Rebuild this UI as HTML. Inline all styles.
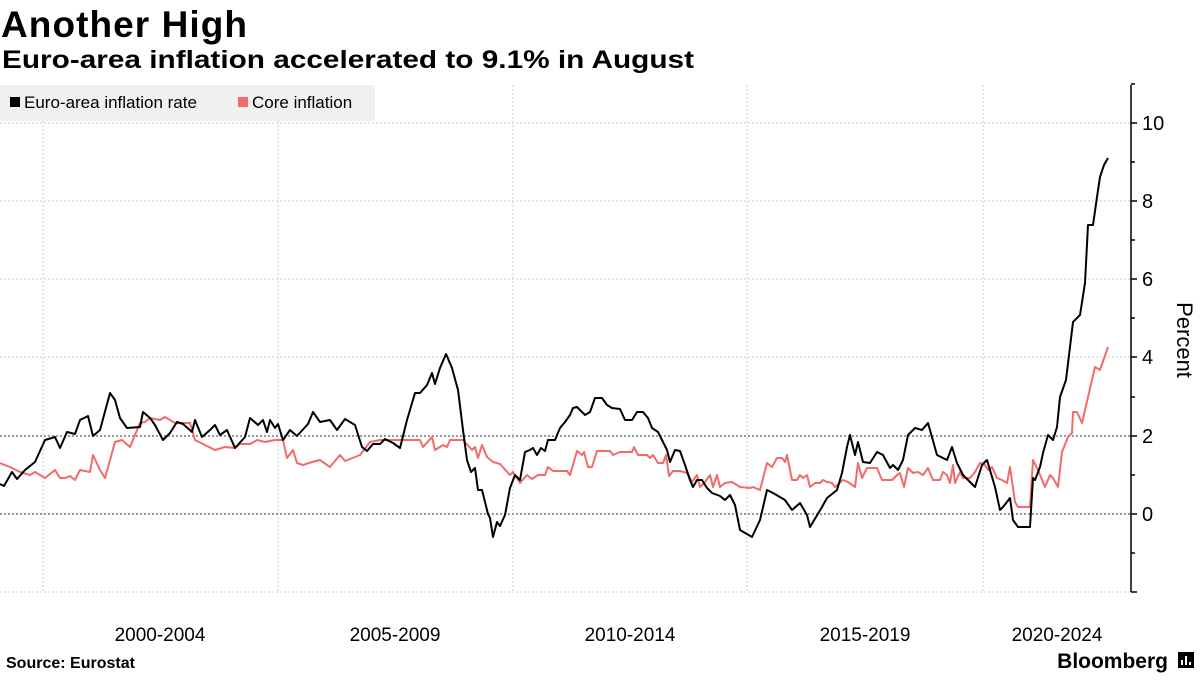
<!DOCTYPE html>
<html><head><meta charset="utf-8"><style>
body{margin:0;width:1200px;height:675px;background:#fff;font-family:"Liberation Sans",sans-serif;overflow:hidden}
</style></head><body>
<svg width="1200" height="675" xmlns="http://www.w3.org/2000/svg" font-family="Liberation Sans, sans-serif">
<text x="1" y="37" font-size="37" font-weight="bold" fill="#000" textLength="246">Another High</text>
<text x="2" y="68" font-size="25" font-weight="bold" fill="#000" textLength="692" lengthAdjust="spacingAndGlyphs">Euro-area inflation accelerated to 9.1% in August</text>
<g stroke="#ccc" stroke-dasharray="2,2" stroke-width="1">
<line x1="0" x2="1131" y1="123" y2="123"/><line x1="0" x2="1131" y1="201" y2="201"/><line x1="0" x2="1131" y1="279" y2="279"/><line x1="0" x2="1131" y1="357" y2="357"/><line x1="0" x2="1131" y1="592" y2="592"/>
<line x1="43" x2="43" y1="85" y2="592"/><line x1="278" x2="278" y1="85" y2="592"/><line x1="513" x2="513" y1="85" y2="592"/><line x1="747" x2="747" y1="85" y2="592"/><line x1="983" x2="983" y1="85" y2="592"/>
</g>
<g stroke="#999" stroke-dasharray="2,2" stroke-width="2">
<line x1="0" x2="1131" y1="436" y2="436"/><line x1="0" x2="1131" y1="514" y2="514"/>
</g>
<rect x="0" y="85" width="375" height="36" fill="#f0f0f0"/>
<rect x="10" y="97" width="10" height="10" fill="#000"/>
<text x="24" y="108" font-size="17">Euro-area inflation rate</text>
<rect x="238" y="97" width="10" height="10" fill="#f26b6b"/>
<text x="252" y="108" font-size="17">Core inflation</text>
<line x1="1131" x2="1131" y1="85" y2="592" stroke="#000" stroke-width="1.5"/>
<g stroke="#000" stroke-width="1.5">
<line x1="1131" x2="1137" y1="123" y2="123"/><line x1="1131" x2="1137" y1="201" y2="201"/><line x1="1131" x2="1137" y1="279" y2="279"/><line x1="1131" x2="1137" y1="357" y2="357"/><line x1="1131" x2="1137" y1="436" y2="436"/><line x1="1131" x2="1137" y1="514" y2="514"/><line x1="1131" x2="1137" y1="592" y2="592"/>
<line x1="1131" x2="1135" y1="84" y2="84"/><line x1="1131" x2="1135" y1="162" y2="162"/><line x1="1131" x2="1135" y1="240" y2="240"/><line x1="1131" x2="1135" y1="318" y2="318"/><line x1="1131" x2="1135" y1="397" y2="397"/><line x1="1131" x2="1135" y1="475" y2="475"/><line x1="1131" x2="1135" y1="553" y2="553"/>
</g>
<g font-size="20" fill="#000">
<text x="1142" y="130">10</text><text x="1142" y="208">8</text><text x="1142" y="286">6</text><text x="1142" y="364">4</text><text x="1142" y="443">2</text><text x="1142" y="521">0</text>
</g>
<text transform="translate(1177,340) rotate(90)" font-size="22" text-anchor="middle">Percent</text>
<g font-size="19" text-anchor="middle">
<text x="160" y="641">2000-2004</text><text x="395" y="641">2005-2009</text><text x="630" y="641">2010-2014</text><text x="865" y="641">2015-2019</text><text x="1057" y="641">2020-2024</text>
</g>
<polyline fill="none" stroke="#f26b6b" stroke-width="2" stroke-linejoin="round" points="0,463 10,467 20,472 30,475 35,472 45,478 55,470 60,478 65,478 70,476 75,480 80,470 90,472 93,455 100,470 105,478 115,442 122,440 130,447 140,423 145,422 150,418 160,420 165,417 175,423 190,423 195,440 205,445 215,450 225,447 235,448 240,444 250,444 257,440 265,442 275,440 283,440 287,458 293,450 297,463 303,465 312,462 320,460 330,467 340,455 345,461 355,457 360,455 370,442 380,440 420,440 423,447 432,437 435,450 443,445 447,447 450,440 463,440 472,450 475,447 478,458 482,445 487,457 493,462 500,464 510,475 513,472 520,483 527,475 532,479 538,475 545,475 548,467 553,471 567,471 570,475 577,451 582,455 584,452 588,467 592,467 597,451 610,451 613,455 620,452 632,452 634,447 638,455 647,455 650,458 653,455 658,463 663,463 666,455 669,476 673,471 680,471 687,473 692,482 697,475 700,487 705,482 710,475 713,487 717,475 720,487 725,483 732,482 740,487 750,488 753,487 760,490 767,463 772,467 777,458 782,458 785,462 787,455 792,480 797,480 800,475 803,478 807,475 810,487 815,483 820,483 823,480 827,482 832,483 835,487 843,480 848,482 855,487 858,463 862,478 867,468 877,468 882,480 892,480 897,475 900,473 904,487 908,468 913,473 918,472 923,475 928,468 933,480 940,480 943,472 947,475 950,483 953,465 955,483 960,472 963,478 970,478 975,472 980,463 985,465 988,470 992,467 997,478 1002,480 1007,483 1010,467 1015,502 1018,507 1030,507 1033,460 1038,470 1045,487 1050,475 1053,478 1058,487 1062,452 1068,437 1072,433 1073,412 1077,412 1082,423 1088,397 1095,367 1100,370 1108,347"/>
<polyline fill="none" stroke="#000" stroke-width="2" stroke-linejoin="round" points="0,484 4,486 12,472 17,479 25,470 35,462 45,440 55,437 60,448 67,432 75,434 80,420 88,416 93,436 100,430 110,393 115,400 120,418 127,428 140,427 143,412 150,418 155,425 163,440 170,433 177,422 183,424 192,432 195,420 202,437 210,430 215,425 220,435 227,430 235,448 245,437 250,418 258,425 263,420 267,432 270,420 275,428 278,424 283,440 290,430 297,436 308,424 313,412 320,422 330,420 337,430 345,419 355,425 362,447 367,451 373,444 380,444 385,439 393,443 400,448 407,420 415,393 420,393 427,385 432,373 435,384 440,368 446,354 452,368 458,390 463,430 467,460 471,472 475,468 478,490 482,490 488,514 490,518 493,537 497,522 500,526 505,515 510,488 515,475 520,480 525,452 530,450 533,448 537,455 541,448 545,451 548,440 555,440 560,428 565,422 570,415 573,408 577,407 580,410 585,415 590,412 595,398 602,398 607,405 612,408 620,409 625,420 632,420 637,412 643,412 648,418 652,428 658,432 663,442 667,450 670,462 675,450 680,451 685,465 690,480 693,487 697,480 702,480 707,488 712,493 720,496 725,500 730,495 735,505 740,530 752,537 760,520 767,490 773,493 785,500 792,510 800,503 807,515 810,527 822,507 827,498 837,490 842,473 847,447 850,435 855,455 858,442 863,462 870,463 877,452 883,455 890,468 893,465 898,470 903,460 908,435 915,428 922,430 928,423 937,455 947,460 952,447 957,463 963,475 975,487 982,465 987,460 995,487 1000,510 1003,507 1010,498 1013,520 1018,527 1030,527 1033,478 1035,480 1040,467 1043,453 1048,435 1053,440 1057,427 1060,397 1066,380 1073,322 1080,315 1085,283 1088,225 1093,225 1097,197 1100,177 1104,165 1108,158"/>
<text x="6" y="668" font-size="16" font-weight="bold">Source: Eurostat</text>
<text x="1168" y="668" font-size="21" font-weight="bold" text-anchor="end">Bloomberg</text>
<rect x="1178" y="652" width="16" height="16" fill="#000"/>
<g stroke="#fff" stroke-width="2"><line x1="1182" y1="665" x2="1182" y2="660"/><line x1="1186" y1="665" x2="1186" y2="656"/><line x1="1190" y1="665" x2="1190" y2="662"/></g>
</svg>
</body></html>
